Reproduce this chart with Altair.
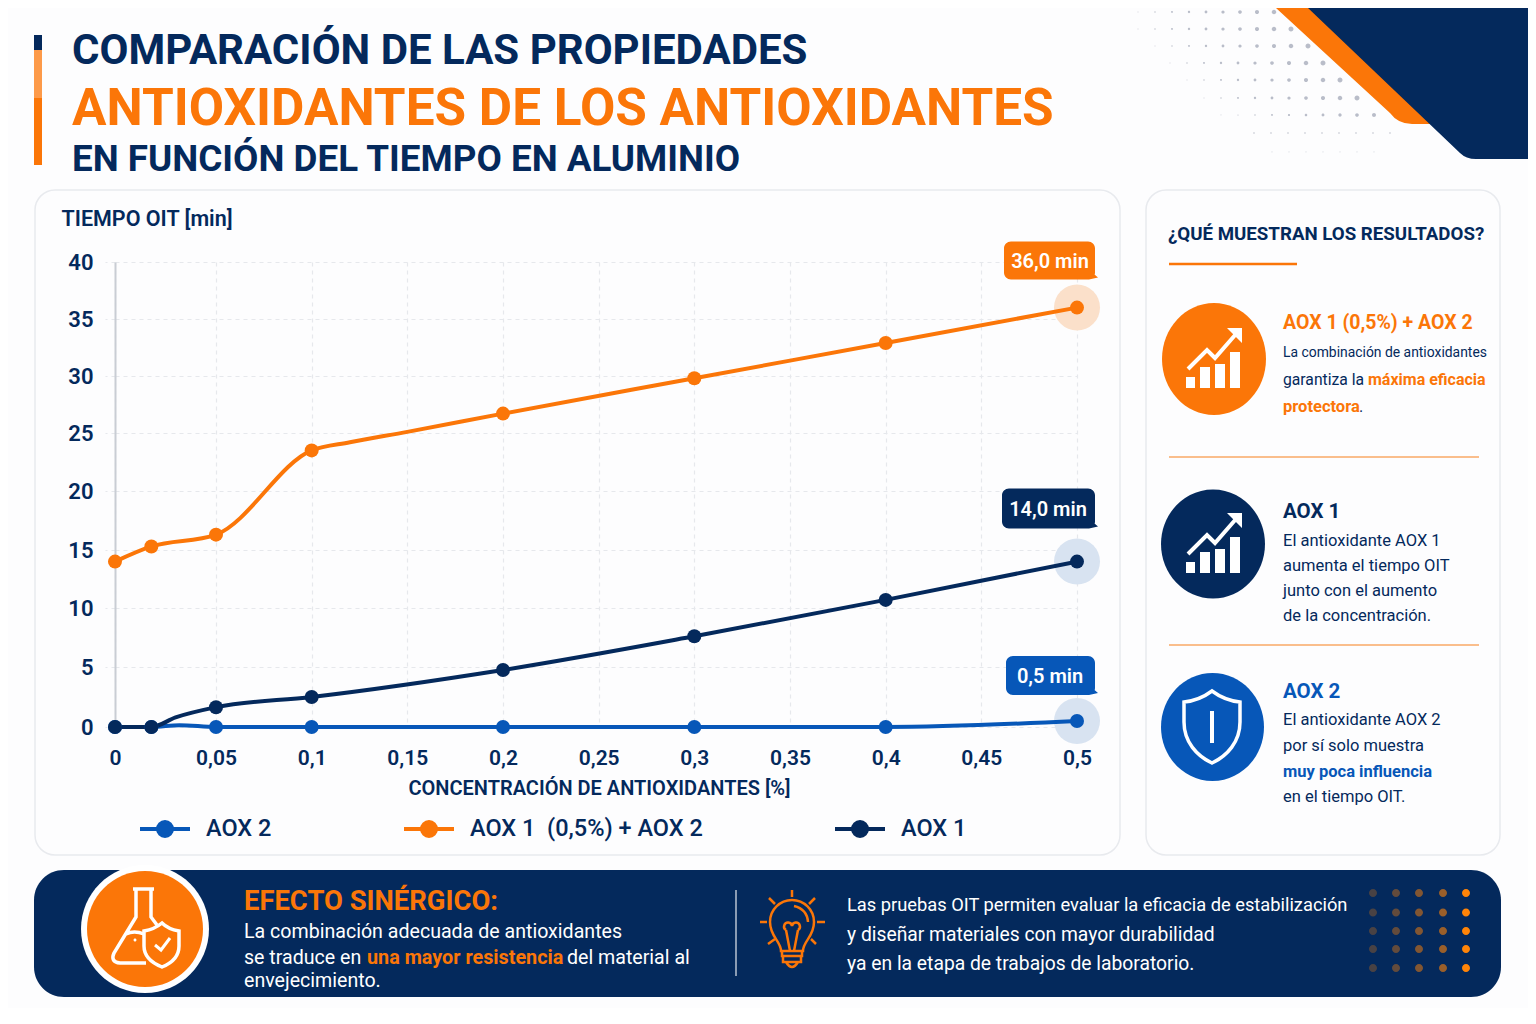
import math
import altair as alt
import pandas as pd

# ---------- data ----------
concentracion = [0, 0.018, 0.05, 0.1, 0.2, 0.3, 0.4, 0.5]
aox2 = [0, 0, 0, 0, 0, 0, 0, 0.5]
aox1_aox2 = [14, 15.3, 16.3, 23.5, 26.7, 29.8, 32.9, 36]
aox1 = [0, 0, 1.65, 2.5, 4.75, 7.6, 10.7, 14]
series = ["AOX 2", "AOX 1 (0,5%) + AOX 2", "AOX 1"]
# extra readings of the drawn curves between the markers (series, concentration, value)
curve_readings = [("AOX 2", 0.032, 0.15), ("AOX 1", 0.03, 0.8),
                  ("AOX 1 (0,5%) + AOX 2", 0.12, 24.2), ("AOX 1 (0,5%) + AOX 2", 0.15, 25.1)]
x_ticks = [0, 0.05, 0.1, 0.15, 0.2, 0.25, 0.3, 0.35, 0.4, 0.45, 0.5]
y_ticks = [0, 5, 10, 15, 20, 25, 30, 35, 40]

NAVY = "#04295c"
ORANGE = "#fb7608"
BLUE = "#0757b8"
colors = [BLUE, ORANGE, NAVY]
ROBOTO = "Roboto"

rows = []
for name, vals in zip(series, [aox2, aox1_aox2, aox1]):
    for c, v in zip(concentracion, vals):
        rows.append({"c": c, "v": v, "serie": name})
df = pd.DataFrame(rows)
df_line = pd.concat([df, pd.DataFrame(curve_readings, columns=["serie", "c", "v"])]).sort_values("c", kind="stable")
# keep drawing order of the series
df_line["o"] = df_line["serie"].map({s: i for i, s in enumerate(series)})
df_line = df_line.sort_values(["o", "c"]).drop(columns="o")

# ---------- helpers ----------
OX, OY = 115, 262
ONE = alt.Data(values=[{"a": 1}])
layers = []


def P(d, fill=None, stroke=None, sw=None, op=1.0):
    kw = dict(shape=d, size=4, opacity=op)
    if fill:
        kw.update(filled=True, fill=fill)
    else:
        kw.update(filled=False)
    if stroke:
        kw.update(stroke=stroke, strokeWidth=sw or 1)
    elif fill:
        kw.update(strokeWidth=0)
    layers.append(alt.Chart(ONE).mark_point(**kw).encode(x=alt.value(-OX), y=alt.value(-OY)))


def T(x, y, text, size, color=NAVY, weight="normal", font=ROBOTO, align="left"):
    layers.append(alt.Chart(ONE).mark_text(text=text, fontSize=size, color=color, fontWeight=weight,
                                           font=font, align=align, baseline="middle")
                  .encode(x=alt.value(x - OX), y=alt.value(y - OY)))


def rr(x0, y0, x1, y1, r):
    return (f"M{x0+r},{y0}H{x1-r}A{r},{r} 0 0 1 {x1},{y0+r}V{y1-r}A{r},{r} 0 0 1 {x1-r},{y1}"
            f"H{x0+r}A{r},{r} 0 0 1 {x0},{y1-r}V{y0+r}A{r},{r} 0 0 1 {x0+r},{y0}Z")


def cc(x, y, r, ry=None):
    ry = ry or r
    return f"M{x-r},{y}A{r},{ry} 0 1 0 {x+r},{y}A{r},{ry} 0 1 0 {x-r},{y}Z"


def chart_icon(dy):
    bars = "".join(f"M{a},{t}H{b}V{388+dy}H{a}Z" for a, b, t in [
        (1186, 1195, 377 + dy), (1200, 1210, 367 + dy), (1215, 1225, 364 + dy), (1230, 1240, 352 + dy)])
    head = f"M1227,{328+dy}H1242V{343+dy}Z"
    P(bars + head, fill="#ffffff")
    P(f"M1188,{369+dy}L1207,{350+dy}L1215,{358+dy}L1236,{334+dy}", stroke="#ffffff", sw=4)


# ---------- top decoration ----------
dots = ""
rows_dots = [(12, 1138, 9), (29, 1138, 10), (46, 1155, 10), (63, 1170, 10), (80, 1187, 10),
             (98, 1204, 10), (115, 1221, 10), (133, 1254, 9), (152, 1272, 7)]
for ry, rx, n in rows_dots:
    for i in range(n):
        r = 0.5 + 2.0 * i / 9
        if ry == 115:
            r = 0.4 + 1.6 * i / 9
        if ry == 133:
            r = 0.8
        if ry == 152:
            r = 0.4
        dots += cc(rx + i * 17, ry, r)
P(dots, fill="#b9bdc9")
P("M1276,8L1390,113Q1398,124 1412,124H1440L1330,8Z", fill=ORANGE)
P("M1308,8L1460,153Q1466,159 1476,159H1536V8Z", fill=NAVY)

# ---------- title ----------
P("M34,35H42V50H34Z", fill=NAVY)
P("M34,50H42V98H34Z", fill="#fd9a49")
P("M34,98H42V165H34Z", fill=ORANGE)
T(72, 51, "COMPARACIÓN DE LAS PROPIEDADES", 42, NAVY, "bold")
T(72, 110, "ANTIOXIDANTES DE LOS ANTIOXIDANTES", 51.3, ORANGE, "bold")
T(72, 160, "EN FUNCIÓN DEL TIEMPO EN ALUMINIO", 36.8, NAVY, "bold")

# ---------- panels ----------
P(rr(35, 190, 1120, 855, 20), stroke="#e8eaee", sw=1.5)
P(rr(1146, 190, 1500, 855, 20), stroke="#e8eaee", sw=1.5)

# ---------- right panel ----------
T(1168, 234, "¿QUÉ MUESTRAN LOS RESULTADOS?", 18.7, NAVY, "bold")
P("M1169,264H1297", stroke=ORANGE, sw=2.5)
P(cc(1214, 359, 52, 56), fill=ORANGE)
chart_icon(0)
T(1283, 323, "AOX 1 (0,5%) + AOX 2", 19.5, ORANGE, "bold")
T(1283, 353, "La combinación de antioxidantes", 13.9, NAVY)
T(1283, 380, "garantiza la", 15.7, NAVY)
T(1368, 380, "máxima eficacia", 16, ORANGE, "bold")
T(1283, 407, "protectora", 16.5, ORANGE, "bold")
T(1359, 407, ".", 16, NAVY)
P("M1169,457H1479", stroke="#f9a866", sw=1.5)
P(cc(1213, 544, 52, 54.5), fill=NAVY)
chart_icon(185)
T(1283, 512, "AOX 1", 20.5, NAVY, "bold")
for y, s in zip([541, 566, 591, 616], ["El antioxidante AOX 1", "aumenta el tiempo OIT", "junto con el aumento", "de la concentración."]):
    T(1283, y, s, 16.5, NAVY)
P("M1169,645H1479", stroke="#f9a866", sw=1.5)
P(cc(1212.5, 727, 51.5, 54), fill=BLUE)
P("M1212,691C1204,697 1194,701 1184,702L1184,722C1184,742 1197,756 1212,763C1227,756 1240,742 1240,722L1240,702C1230,701 1220,697 1212,691Z",
  stroke="#ffffff", sw=3.5)
P("M1212,711V743", stroke="#ffffff", sw=4)
T(1283, 692, "AOX 2", 20.5, BLUE, "bold")
T(1283, 720, "El antioxidante AOX 2", 16.5, NAVY)
T(1283, 746, "por sí solo muestra", 16.5, NAVY)
T(1283, 772, "muy poca influencia", 16.5, BLUE, "bold")
T(1283, 797, "en el tiempo OIT.", 16.5, NAVY)

# ---------- bottom band ----------
P(rr(34, 870, 1501, 997, 30), fill=NAVY)
P(cc(145, 929, 64), fill="#ffffff")
P(cc(145, 929, 58), fill=ORANGE)
P("M133,889H154M136,889V917L114,953Q110,962 120,963H146M151,889V917L157,925M126,934Q134,930 144,934", stroke="#ffffff", sw=3.5)
P(cc(135, 940, 1.5), fill="#ffffff")
P("M162,923C156,928 150,930 144,931V946C144,956 152,963 162,967C172,963 179,956 179,946V931C173,930 167,928 162,923Z",
  fill=ORANGE, stroke="#ffffff", sw=3.5)
P("M155,945L161,950L170,938", stroke="#ffffff", sw=3)
T(244, 902, "EFECTO SINÉRGICO:", 27.4, ORANGE, "bold")
T(244, 932, "La combinación adecuada de antioxidantes", 19.6, "#ffffff")
T(244, 958, "se traduce en", 19.6, "#ffffff")
T(367, 958, "una mayor resistencia", 19.8, ORANGE, "bold")
T(567, 958, "del material al", 19.6, "#ffffff")
T(244, 981, "envejecimiento.", 19.6, "#ffffff")
P("M736,890V976", stroke="#ffffff", sw=1.2, op=0.9)
P("M781,951C781,941 770,937 770,922A22,22 0 1 1 814,922C814,937 803,941 803,951Z"
  "M782,951V956H802V951M783,956V962H801V956M786,962Q792,972 798,962"
  "M790,951L786,930M794,951L798,930M786,930A4,4 0 1 1 792,926A4,4 0 1 1 798,930"
  "M794,906Q807,909 808,922", stroke=ORANGE, sw=2.5)
P("M792,890V897M769,898L775,904M815,898L809,904M760,922H767M817,922H825M768,944L775,939M816,944L811,939",
  stroke=ORANGE, sw=2.5)
T(847, 906, "Las pruebas OIT permiten evaluar la eficacia de estabilización", 18.3, "#ffffff")
T(847, 935, "y diseñar materiales con mayor durabilidad", 19.3, "#ffffff")
T(847, 964, "ya en la etapa de trabajos de laboratorio.", 19.3, "#ffffff")
for xd, op in zip([1373, 1396, 1419, 1443, 1466], [0.28, 0.38, 0.5, 0.6, 1]):
    P("".join(cc(xd, yd, 4) for yd in [893, 912.5, 931, 949, 968]), fill="#ff8408", op=op)

# ---------- chart ----------
xs = alt.Scale(domain=[0, 0.05, 0.5], range=[0, 101, 962])
ys = alt.Scale(domain=y_ticks, range=[465, 405, 346, 288, 229, 171, 114, 57, 0])
GRID = "#e6e8ec"
x_axis = alt.Axis(values=x_ticks, labelExpr="replace(toString(datum.value),'.',',')", domain=False, ticks=False,
                  grid=True, gridColor=GRID, gridDash=[4, 4], gridWidth=1.2,
                  labelFont=ROBOTO, labelFontSize=21, labelFontWeight=600, labelColor=NAVY, labelPadding=20,
                  labelOverlap=False, labelFlush=False,
                  title="CONCENTRACIÓN DE ANTIOXIDANTES [%]", titleFont=ROBOTO, titleFontSize=20,
                  titleFontWeight=600, titleColor=NAVY, titleX=484, titleY=61, titleBaseline="middle", titleAlign="center")
y_axis = alt.Axis(values=y_ticks, domain=True, domainColor="#c9cdd4", domainWidth=2, ticks=True, tickSize=10,
                  tickColor=GRID, tickDash=[4, 4], tickWidth=1.2, grid=True, gridColor=GRID, gridDash=[4, 4], gridWidth=1.2,
                  labelFont=ROBOTO, labelFontSize=22, labelFontWeight=600, labelColor=NAVY, labelPadding=12,
                  title="TIEMPO OIT [min]", titleFont=ROBOTO, titleFontSize=21.5, titleFontWeight=600, titleColor=NAVY,
                  titleAngle=0, titleX=-54, titleY=-43, titleAlign="left", titleBaseline="middle")
X = alt.X("c:Q", scale=xs, axis=x_axis)
Y = alt.Y("v:Q", scale=ys, axis=y_axis)
cs = alt.Scale(domain=series, range=colors)
base = alt.Chart(df)

# end-point callouts drawn at the data's last point
callouts = [
    ("AOX 1 (0,5%) + AOX 2", ORANGE, "#fbe0ca", -73, 18, -66, -28, -27, -46),
    ("AOX 1", NAVY, "#d8e3f1", -75, 18, -73, -33, -29, -52),
    ("AOX 2", BLUE, "#d8e3f1", -71, 18, -65, -26, -27, -44),
]
for name, col, halo, *_ in callouts:
    end = base.transform_filter(f"datum.serie == '{name}' && datum.c == 0.5")
    layers.append(end.mark_point(filled=True, size=4 * 23 * 23, fill=halo, opacity=1, strokeWidth=0).encode(x=X, y=Y))

NB = "\u00a0"
legend = alt.Legend(orient="none", legendX=23, legendY=540, direction="horizontal", columns=3, title=None,
                    symbolType="M-1,0H1M0.28,0A0.28,0.28 0 1,1 -0.28,0A0.28,0.28 0 1,1 0.28,0Z",
                    symbolSize=2500, symbolStrokeWidth=4, symbolOpacity=1, labelOffset=14,
                    labelExpr=f"indexof(datum.label,'(')>0 ? '{NB}AOX 1{NB}{NB}(0,5%) + AOX 2{NB*6}' : datum.label",
                    labelFont=ROBOTO, labelFontSize=23.5, labelFontWeight=500, labelColor=NAVY, columnPadding=124,
                    labelLimit=400)
layers.append(alt.Chart(df_line).mark_line(interpolate="monotone", strokeWidth=4, opacity=1).encode(
    x=X, y=Y, stroke=alt.Stroke("serie:N", scale=cs, legend=legend, sort=None)))
layers.append(base.mark_point(filled=True, size=196, opacity=1, strokeWidth=0).encode(
    x=X, y=Y, fill=alt.Fill("serie:N", scale=cs, legend=legend), stroke=alt.Stroke("serie:N", scale=cs, legend=legend)))

for name, col, halo, x0, x1, y0, y1, dx, dy in callouts:
    end = base.transform_filter(f"datum.serie == '{name}' && datum.c == 0.5")
    box = rr(x0, y0, x1, y1, 7) + f"M{x1-4},{y1-8}L{x1+3},{y1-2}L{x1-6},{y1}Z"
    layers.append(end.mark_point(shape=box, size=4, filled=True, fill=col, opacity=1, strokeWidth=0).encode(x=X, y=Y))
    layers.append(end.transform_calculate(lab="replace(format(datum.v,'.1f'),'.',',') + ' min'")
                  .mark_text(dx=dx, dy=dy, font=ROBOTO, fontSize=20, fontWeight=600, color="#ffffff", align="center", baseline="middle")
                  .encode(x=X, y=Y, text="lab:N"))

chart = alt.layer(*layers).properties(
    width=962, height=465, background="#fdfdfe",
    padding={"left": 107, "top": 254, "right": 451, "bottom": 746 - 465},
    autosize=alt.AutoSizeParams(type="none"),
).configure_view(stroke=None)

chart.save("out.html", embed_options={"renderer": "svg", "actions": False})
